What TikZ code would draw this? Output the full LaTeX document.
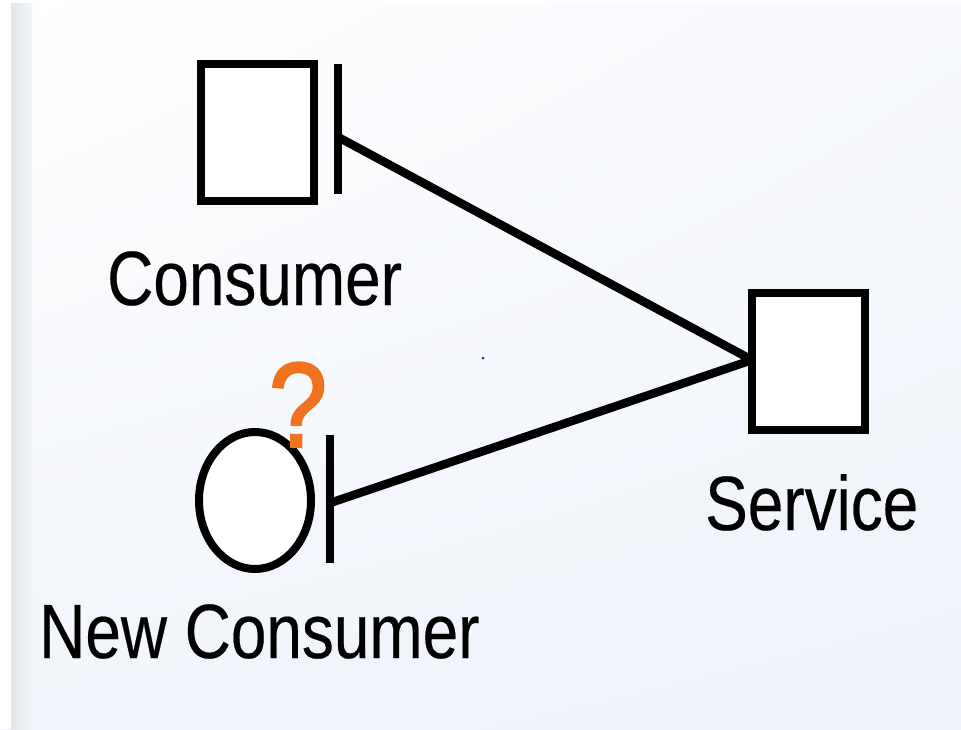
\documentclass[tikz,border=0pt]{standalone}
\usepackage{fontspec}
\usetikzlibrary{shapes.geometric,shadings}
\newfontfamily\labelfont[FakeStretch=0.83,FakeBold=0.3]{Liberation Sans}
\newfontfamily\qfont[FakeStretch=0.86,FakeBold=2]{Liberation Sans}
\definecolor{bgtl}{RGB}{255,255,255}
\definecolor{bgtr}{RGB}{247,249,253}
\definecolor{bgbl}{RGB}{241,245,251}
\definecolor{bgbr}{RGB}{238,243,250}
\definecolor{stripgray}{RGB}{226,228,233}
\definecolor{qorange}{RGB}{240,114,30}
\definecolor{speck}{RGB}{40,40,140}
\tikzset{
  part/.style={draw=black, fill=white, line width=8pt, inner sep=0pt},
  boxpart/.style={part, rectangle, minimum width=113pt, minimum height=137pt},
  roundpart/.style={part, ellipse, minimum width=112pt, minimum height=137pt},
  stub/.style={line width=8pt, line cap=butt},
  link/.style={line width=8.5pt, line cap=butt},
  caption/.style={inner sep=0pt, anchor=base west, font=\labelfont\fontsize{77}{80}\selectfont},
  query/.style={inner sep=0pt, anchor=base, text=qorange, font=\qfont\fontsize{121}{125}\selectfont}
}
\begin{document}
\begin{tikzpicture}[x=1pt, y=-1pt]
  \useasboundingbox (0,0) rectangle (961,729);
  % page background
  \shade[upper left=bgtl, upper right=bgtr, lower left=bgbl, lower right=bgbr]
    (0,0) rectangle (961,729);
  \fill[white] (0,0) rectangle (11,729);
  \shade[left color=stripgray, right color=bgbl] (11,3) rectangle (32,729);
  \fill[white] (0,0) rectangle (961,3);

  % endpoints on the provider bars
  \coordinate (cbartop) at (338,64);
  \coordinate (cbarbot) at (338,194);
  \coordinate (cjoin) at (338,137);
  \coordinate (nbartop) at (330,435);
  \coordinate (nbarbot) at (330,563);
  \coordinate (njoin) at (330,503);

  % service, drawn after its links so the box covers their ends
  \coordinate (servicein) at (752,360);
  \draw[link] (cjoin) -- (servicein);
  \draw[link] (njoin) -- (servicein);
  \node[boxpart] (service) at (808.5,361) {};

  % consumers
  \node[boxpart] (consumer) at (257.5,132) {};
  \node[roundpart] (newconsumer) at (255,500.5) {};
  \draw[stub] (cbartop) -- (cbarbot);
  \draw[stub] (nbartop) -- (nbarbot);

  % labels
  \node[caption] (consumerlabel) at (107,305) {Consumer};
  \node[caption] (newconsumerlabel) at (39,658) {New Consumer};
  \node[caption] (servicelabel) at (705,530) {Service};
  \node[query] (query) at (298,447) {?};

  % small speck
  \fill[speck] (483,358) circle (1.5);
\end{tikzpicture}
\end{document}
